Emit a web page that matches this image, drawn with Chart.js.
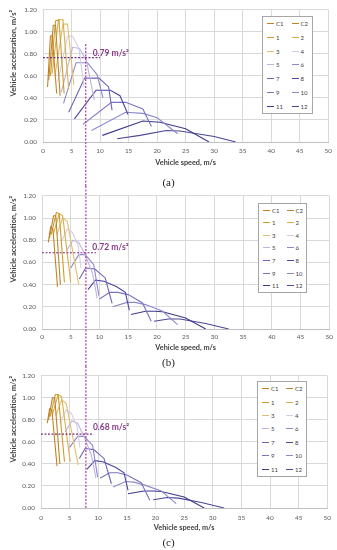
<!DOCTYPE html>
<html>
<head>
<meta charset="utf-8">
<script src="https://cdn.jsdelivr.net/npm/chart.js@4.4.0/dist/chart.umd.min.js"></script>
<style>
body { margin: 0; background: #fff; width: 337px; height: 550px; position: relative; overflow: hidden; font-family: Lato, sans-serif; }
canvas { position: absolute; left: 0; }
.cap { position: absolute; left: 0; width: 337px; text-align: center; font: 11px "Liberation Serif", serif; color: #222; line-height: 12px; }
.leg { position: absolute; border: 1px solid #a6a6a6; background: #fff; display: grid; grid-template-columns: 1fr 1fr; box-sizing: border-box; }
.leg div { display: flex; align-items: center; font-size: 6px; color: #404040; white-space: nowrap; }
.leg i { display: inline-block; width: 7px; height: 0; border-top: 1.3px solid; margin: 0 2px 0 4px; }
</style>
</head>
<body>
<canvas id="chartA" width="337" height="186" style="top:0"></canvas>
<canvas id="chartB" width="337" height="180" style="top:186px"></canvas>
<canvas id="chartC" width="337" height="184" style="top:366px"></canvas>
<div class="cap" style="top:176px">(a)</div>
<div class="cap" style="top:356px">(b)</div>
<div class="cap" style="top:536px">(c)</div>
<div class="leg" id="legA" style="left:262px;top:16px;width:51px;height:98px"></div>
<div class="leg" id="legB" style="left:258px;top:203px;width:49px;height:90px"></div>
<div class="leg" id="legC" style="left:257px;top:381px;width:50px;height:96px"></div>

<script>
// series names (gears), same for the three cases
const seriesNames = ['C1', 'C2', '1', '2', '3', '4', '5', '6', '7', '8', '9', '10', '11', '12'];
const seriesColors = ['#c8801e', '#b8862e', '#d09a2a', '#d8ae48', '#e0c070', '#d4cce8', '#bdb4e0',
                      '#8f86cc', '#6a62b8', '#4b45a0', '#7a74c0', '#8c88cc', '#3e3a8c', '#4c4898'];

// [speed m/s, acceleration m/s2] for each series, case (a)
const curvesA = [
    [[0.8, 0.50], [1.3, 0.96], [1.6, 0.97], [2.4, 0.44]],
    [[1.0, 0.56], [1.8, 1.06], [2.2, 1.06], [3.0, 0.42]],
    [[1.3, 0.60], [2.2, 1.10], [2.8, 1.11], [3.7, 0.44]],
    [[1.6, 0.62], [2.7, 1.11], [3.5, 1.11], [4.5, 0.48]],
    [[2.1, 0.60], [3.5, 1.07], [4.3, 1.07], [5.4, 0.52]],
    [[2.6, 0.55], [4.3, 0.96], [5.2, 0.96], [6.3, 0.85], [7.2, 0.50]],
    [[3.2, 0.45], [5.2, 0.86], [6.4, 0.85], [7.6, 0.74], [9.0, 0.38]],
    [[3.6, 0.35], [5.8, 0.72], [7.8, 0.72], [9.5, 0.61], [10.5, 0.40]],
    [[4.5, 0.27], [7.3, 0.58], [9.8, 0.58], [11.5, 0.50], [12.1, 0.29]],
    [[5.5, 0.21], [9.3, 0.47], [11.8, 0.47], [13.5, 0.42], [14.9, 0.25]],
    [[7.0, 0.16], [12.0, 0.36], [14.5, 0.36], [17.5, 0.30], [19.0, 0.14]],
    [[8.5, 0.105], [14.5, 0.27], [17.5, 0.26], [20.0, 0.22], [23.6, 0.075]],
    [[10.4, 0.06], [17.5, 0.19], [20.5, 0.18], [25.0, 0.12], [29.1, 0]],
    [[13.0, 0.03], [17.0, 0.06], [21.6, 0.105], [24.0, 0.10], [30.0, 0.05], [33.8, 0]]
];

// case (b)
const curvesB = [
    [[1.1, 0.78], [1.5, 0.92], [1.9, 0.90], [2.7, 0.38]],
    [[1.3, 0.82], [2.0, 1.02], [2.4, 1.02], [3.2, 0.40]],
    [[1.6, 0.85], [2.5, 1.05], [3.0, 1.04], [3.9, 0.42]],
    [[2.0, 0.86], [3.0, 1.04], [3.6, 1.02], [5.0, 0.42]],
    [[2.6, 0.85], [3.6, 1.00], [4.4, 0.97], [6.4, 0.40]],
    [[3.3, 0.78], [4.4, 0.90], [5.3, 0.87], [6.3, 0.75], [6.8, 0.55]],
    [[4.2, 0.70], [5.4, 0.80], [6.4, 0.78], [7.5, 0.67], [8.8, 0.50], [9.6, 0.28]],
    [[5.0, 0.55], [6.4, 0.67], [7.5, 0.67], [9.0, 0.58], [9.9, 0.30]],
    [[6.5, 0.45], [7.6, 0.55], [9.2, 0.54], [11.0, 0.46], [12.2, 0.23]],
    [[8.0, 0.355], [9.3, 0.44], [10.8, 0.43], [13.0, 0.38], [14.5, 0.33], [15.2, 0.17]],
    [[10.0, 0.27], [11.8, 0.33], [13.2, 0.33], [15.0, 0.31], [17.5, 0.235], [19.0, 0.07]],
    [[12.3, 0.20], [14.8, 0.24], [16.2, 0.24], [18.0, 0.22], [21.0, 0.16], [23.6, 0.04]],
    [[15.5, 0.13], [18.0, 0.16], [19.6, 0.16], [21.0, 0.155], [25.0, 0.10], [28.5, 0]],
    [[19.5, 0.07], [22.0, 0.09], [24.0, 0.09], [28.5, 0.05], [32.5, 0]]
];

// case (c)
const curvesC = [
    [[1.1, 0.77], [1.5, 0.90], [1.9, 0.89], [2.8, 0.38]],
    [[1.3, 0.80], [2.0, 1.00], [2.4, 1.00], [3.3, 0.40]],
    [[1.6, 0.83], [2.5, 1.03], [3.0, 1.03], [4.1, 0.42]],
    [[2.0, 0.85], [3.0, 1.03], [3.6, 1.01], [5.1, 0.42]],
    [[2.6, 0.84], [3.6, 0.98], [4.4, 0.95], [6.5, 0.39]],
    [[3.3, 0.77], [4.4, 0.89], [5.3, 0.86], [6.3, 0.74], [6.8, 0.55]],
    [[4.2, 0.69], [5.4, 0.79], [6.4, 0.77], [7.5, 0.65], [8.8, 0.48], [9.6, 0.27]],
    [[5.0, 0.55], [6.4, 0.65], [7.5, 0.65], [9.0, 0.57], [9.9, 0.28]],
    [[6.7, 0.45], [7.7, 0.54], [9.2, 0.53], [11.0, 0.45], [12.3, 0.22]],
    [[8.0, 0.35], [9.4, 0.43], [10.8, 0.42], [13.0, 0.37], [14.5, 0.32], [15.2, 0.16]],
    [[10.3, 0.27], [12.0, 0.32], [13.4, 0.32], [15.0, 0.30], [17.5, 0.23], [19.0, 0.07]],
    [[12.6, 0.19], [14.8, 0.24], [16.2, 0.235], [18.0, 0.21], [21.0, 0.155], [23.6, 0.04]],
    [[15.2, 0.13], [18.0, 0.155], [19.6, 0.155], [21.0, 0.15], [25.0, 0.10], [28.5, 0]],
    [[19.6, 0.075], [22.0, 0.095], [24.0, 0.09], [28.0, 0.05], [32.0, 0]]
];

// marked acceleration level and speed for each case
const markLevel = [0.766, 0.687, 0.67];
const markLevelEnd = [10.0, 9.4, 9.2];
const markSpeed = [7.49, 7.64, 7.84];
const markText = ['0.79 m/s²', '0.72 m/s²', '0.68 m/s²'];
const markTextX = [8.7, 8.75, 9.06];
const markTextY = [0.81, 0.74, 0.73];

const markPlugin = {
    id: 'marker',
    afterDatasetsDraw(chart, args, o) {
        const ctx = chart.ctx;
        const x = chart.scales.x, y = chart.scales.y;
        ctx.save();
        ctx.lineWidth = 1.2;
        ctx.setLineDash([2, 1.5]);
        // horizontal level line
        ctx.strokeStyle = '#7a3478';
        ctx.beginPath();
        ctx.moveTo(x.getPixelForValue(0), y.getPixelForValue(o.level));
        ctx.lineTo(x.getPixelForValue(o.levelEnd), y.getPixelForValue(o.level));
        ctx.stroke();
        // vertical speed line, runs through all three panels
        ctx.strokeStyle = '#a83aa8';
        const vx = x.getPixelForValue(o.speed);
        const y0 = o.vTop == null ? 0 : y.getPixelForValue(o.vTop);
        const y1 = o.vBottom == null ? chart.height : y.getPixelForValue(o.vBottom);
        ctx.beginPath();
        ctx.moveTo(vx, y0);
        ctx.lineTo(vx, y1);
        ctx.stroke();
        // label
        ctx.setLineDash([]);
        ctx.fillStyle = '#8a3a88';
        ctx.font = 'bold 8.5px Lato';
        ctx.textBaseline = 'middle';
        ctx.fillText(o.text, x.getPixelForValue(o.textX), y.getPixelForValue(o.textY));
        ctx.restore();
    }
};

function crearGrafico(id, curves, k, lay) {
    const ctx = document.getElementById(id).getContext('2d');
    return new Chart(ctx, {
        type: 'line',
        data: {
            datasets: curves.map((c, i) => ({
                label: seriesNames[i],
                data: c.map(p => ({ x: p[0], y: p[1] })),
                borderColor: seriesColors[i],
                borderWidth: 1.1,
                pointRadius: 0,
                fill: false,
                tension: 0
            }))
        },
        options: {
            responsive: false,
            animation: false,
            devicePixelRatio: 1,
            layout: { padding: { left: 0, right: lay.right, top: 8, bottom: lay.bottom } },
            plugins: {
                legend: { display: false },
                tooltip: { enabled: false },
                marker: {
                    level: markLevel[k], levelEnd: markLevelEnd[k], speed: markSpeed[k],
                    text: markText[k], textX: markTextX[k], textY: markTextY[k],
                    vTop: lay.vTop, vBottom: lay.vBottom
                }
            },
            scales: {
                x: {
                    type: 'linear', min: 0, max: 50,
                    ticks: { stepSize: 5, color: '#595959', font: { size: 6.4, family: 'Lato' }, padding: lay.tickPad },
                    grid: { color: '#d9d9d9', drawTicks: false },
                    border: { color: '#bfbfbf' },
                    title: { display: true, text: 'Vehicle speed, m/s', color: '#404040',
                             font: { size: 7.3, weight: 'bold', family: 'Lato' }, padding: { top: 0, bottom: 0 } },
                    afterFit: s => { s.height = lay.axisH; }
                },
                y: {
                    min: 0, max: 1.2,
                    ticks: { stepSize: 0.2, color: '#595959', font: { size: 6.4, family: 'Lato' }, padding: 6,
                             callback: v => v.toFixed(2) },
                    grid: { color: '#d9d9d9', drawTicks: false },
                    border: { display: false },
                    title: { display: true, text: 'Vehicle acceleration, m/s²', color: '#404040', align: 'end',
                             font: { size: 7.6, weight: 'bold', family: 'Lato' }, padding: { top: 8.5, bottom: 0 } },
                    afterFit: s => { s.width = lay.left; }
                }
            }
        },
        plugins: [markPlugin]
    });
}

function montarLegenda(id) {
    const box = document.getElementById(id);
    seriesNames.forEach((n, i) => {
        const d = document.createElement('div');
        d.innerHTML = '<i style="border-color:' + seriesColors[i] + '"></i>' + n;
        box.appendChild(d);
    });
}

crearGrafico('chartA', curvesA, 0, { left: 43, right: 7, bottom: 18.8, axisH: 25.2, tickPad: 5, vTop: 0.89, vBottom: null });
crearGrafico('chartB', curvesB, 1, { left: 42, right: 7, bottom: 14, axisH: 23, tickPad: 4, vTop: null, vBottom: null });
crearGrafico('chartC', curvesC, 2, { left: 41, right: 9, bottom: 17.5, axisH: 24.5, tickPad: 6, vTop: null, vBottom: 0 });
['legA', 'legB', 'legC'].forEach(montarLegenda);
</script>
</body>
</html>
